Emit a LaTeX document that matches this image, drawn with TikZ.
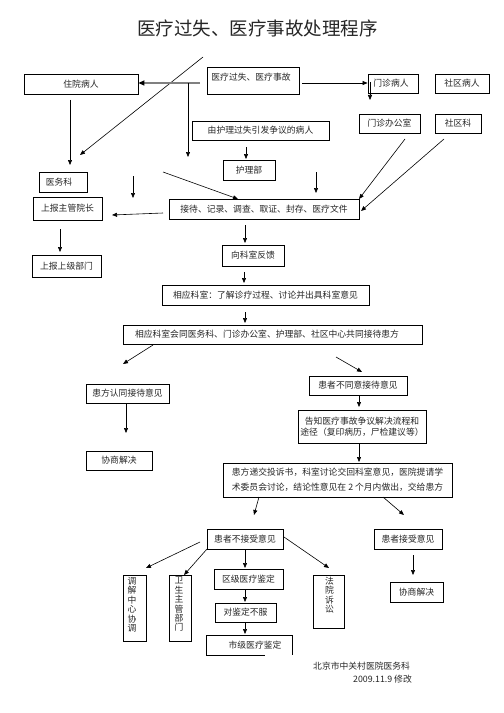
\documentclass[tikz,border=0pt]{standalone}
\usepackage{fontspec}
\newfontfamily\cjk{Noto Sans CJK SC}
\usetikzlibrary{arrows.meta}
\tikzset{
  box/.style={draw, line width=0.8bp, inner sep=0pt, font=\cjk\fontsize{8.8bp}{11bp}\selectfont, text=black!85},
  txt/.style={inner sep=0pt, font=\cjk\fontsize{8.8bp}{11bp}\selectfont, text=black!85},
  vtxt/.style={inner sep=0pt, anchor=north, align=center, font=\cjk\fontsize{8.8bp}{9.4bp}\selectfont, text=black!85},
  arr/.style={line width=0.6bp, -{Triangle[length=5bp,width=4bp]}},
  garr/.style={line width=2bp, draw=black!50, -{Triangle[length=6bp,width=5bp,color=black]}},
}
\begin{document}
\begin{tikzpicture}[x=1bp,y=-1bp]
\useasboundingbox (0,0) rectangle (504,713);
\fill[white] (0,0) rectangle (504,713);
% title
\node[inner sep=0pt, font=\cjk\fontsize{18.5bp}{20bp}\selectfont, text=black!85] (title) at (257.5,28) {医疗过失、医疗事故处理程序};

% boxes
\node[box, minimum width=114bp, minimum height=20bp] (zy) at (81,84) {住院病人};
\node[box, minimum width=92bp, minimum height=27bp] (sg) at (253,80.5) {};
\node[txt] (sgt) at (251,77) {医疗过失、医疗事故};
\node[box, minimum width=137bp, minimum height=19bp] (hl) at (260.5,130.5) {由护理过失引发争议的病人};
\node[box, minimum width=50bp, minimum height=19bp] (mz) at (393,83.5) {};
\node[txt] (mzt) at (391,83.5) {门诊病人};
\node[box, minimum width=54bp, minimum height=19bp] (sq) at (462,83.5) {社区病人};
\node[box, minimum width=61bp, minimum height=19bp] (mb) at (389.5,123.5) {门诊办公室};
\node[box, minimum width=46bp, minimum height=19bp] (sk) at (458,123.5) {社区科};
\node[box, minimum width=52bp, minimum height=20bp] (hlb) at (249,170) {护理部};
\node[box, minimum width=48bp, minimum height=20bp] (yw) at (63,182) {};
\node[txt] (ywt) at (59,182) {医务科};
\node[box, minimum width=69bp, minimum height=23bp] (sb) at (67.5,208.5) {上报主管院长};
\node[box, minimum width=190bp, minimum height=20bp] (jd) at (264,209) {接待、记录、调查、取证、封存、医疗文件};
\node[box, minimum width=69bp, minimum height=22bp] (sj) at (66.5,266) {上报上级部门};
\node[box, minimum width=62bp, minimum height=21bp] (fk) at (253,255.5) {向科室反馈};
\node[box, minimum width=207bp, minimum height=20bp] (ly) at (265.5,295) {相应科室：了解诊疗过程、讨论并出具科室意见};
\node[box, minimum width=299bp, minimum height=19bp] (hs) at (272.5,334.5) {};
\node[txt] (hst) at (267,334.5) {相应科室会同医务科、门诊办公室、护理部、社区中心共同接待患方};
\node[box, minimum width=83bp, minimum height=19bp] (rt) at (127.5,393.5) {患方认同接待意见};
\node[box, minimum width=98bp, minimum height=19bp] (bt) at (358,385.5) {患者不同意接待意见};
\node[box, minimum width=66bp, minimum height=19bp] (xs1) at (119,460.5) {协商解决};
\node[box, minimum width=128bp, minimum height=33bp, align=center] (gz) at (362,426.5) {告知医疗事故争议解决流程和\\途径（复印病历，尸检建议等）};
\node[box, minimum width=229bp, minimum height=34bp, align=center, font=\cjk\fontsize{8.8bp}{15bp}\selectfont] (dj) at (337.5,480) {患方递交投诉书，科室讨论交回科室意见，医院提请学\\术委员会讨论，结论性意见在 2 个月内做出，交给患方};
\node[box, minimum width=76bp, minimum height=20bp] (bj) at (245,539) {患者不接受意见};
\node[box, minimum width=68bp, minimum height=20bp] (js) at (408,539) {患者接受意见};
\node[box, minimum width=23bp, minimum height=66bp] (tj) at (134.5,608) {};
\node[vtxt] (tjt) at (132,577) {调\\解\\中\\心\\协\\调};
\node[box, minimum width=22bp, minimum height=66bp] (ws) at (180,608) {};
\node[vtxt] (wst) at (179,577) {卫\\生\\主\\管\\部\\门};
\node[box, minimum width=69bp, minimum height=20bp] (qj) at (248.5,579) {区级医疗鉴定};
\node[box, minimum width=61bp, minimum height=19bp] (dbf) at (245.5,612.5) {对鉴定不服};
\node[minimum width=85bp, minimum height=19bp, inner sep=0pt] (sj2) at (249.5,645.5) {};
\node[txt] (sj2t) at (255,645.5) {市级医疗鉴定};
\draw[line width=0.8bp] ([xshift=15bp]sj2.south) -- (sj2.south west) -- (sj2.north west) -- (sj2.north east) -- (sj2.south east);
\node[box, minimum width=31bp, minimum height=53bp] (fy) at (328.5,601.5) {};
\node[vtxt] (fyt) at (329.5,577) {法\\院\\诉\\讼};
\node[box, minimum width=53bp, minimum height=20bp] (xs2) at (416.5,592) {协商解决};

% footer
\node[txt, anchor=west] (ft1) at (313,666) {北京市中关村医院医务科};
\node[txt, anchor=east] (ft2) at (412,679) {2009.11.9 修改};

% connector end points
\coordinate (d1a) at (203,57);   \coordinate (d1b) at (80,155);
\coordinate (g1) at (200,83);
\coordinate (v1a) at (188,83);   \coordinate (v1b) at (188,157);
\coordinate (m1) at (302,83);
\coordinate (m2a) at (370,82);   \coordinate (m2b) at (370,100);
\coordinate (z1a) at (70,100);   \coordinate (z1b) at (70,165);
\coordinate (h1a) at (246,147);  \coordinate (h1b) at (246,159);
\coordinate (y1a) at (133,176);  \coordinate (y1b) at (133,198);
\coordinate (y2a) at (163,172);  \coordinate (y2b) at (238,199);
\coordinate (p1a) at (316,172);  \coordinate (p1b) at (316,193);
\coordinate (mb1) at (405,139);  \coordinate (mb2) at (359,199);
\coordinate (sk1) at (444,139);  \coordinate (sk2) at (361,211);
\coordinate (j1a) at (163,213);  \coordinate (j1b) at (112,215);
\coordinate (s1a) at (60,229);   \coordinate (s1b) at (60,252);
\coordinate (j2a) at (245,225);  \coordinate (j2b) at (245,243);
\coordinate (f1a) at (244,272);  \coordinate (f1b) at (244,283);
\coordinate (l1a) at (245,312);  \coordinate (l1b) at (245,323);
\coordinate (hs1a) at (153,345); \coordinate (hs1b) at (123,364);
\coordinate (hs2a) at (336,357); \coordinate (hs2b) at (362,372);
\coordinate (r1a) at (126,403);  \coordinate (r1b) at (126,433);
\coordinate (b1a) at (359,395);  \coordinate (b1b) at (359,407);
\coordinate (gz1a) at (359,443); \coordinate (gz1b) at (359,462);
\coordinate (dj1a) at (259,497); \coordinate (dj1b) at (254,515);
\coordinate (dj2a) at (383,497); \coordinate (dj2b) at (404,515);
\coordinate (bj1a) at (200,542); \coordinate (bj1b) at (146,568);
\coordinate (bj2a) at (207,549); \coordinate (bj2b) at (184,575);
\coordinate (bj3a) at (245,549); \coordinate (bj3b) at (245,568);
\coordinate (bj4a) at (284,537); \coordinate (bj4b) at (329,568);
\coordinate (js1a) at (413,555); \coordinate (js1b) at (413,575);
\coordinate (q1a) at (245,589);  \coordinate (q1b) at (245,602);
\coordinate (q2a) at (245,622);  \coordinate (q2b) at (245,634);

% connectors
\draw[arr] (d1a) -- (d1b);
\draw[garr] (g1) -- (zy.east |- g1);
\draw[arr] (v1a) -- (v1b);
\draw[arr] (m1) -- (mz.west |- m1);
\draw[arr] (m2a) -- (m2b);
\draw[arr] (z1a) -- (z1b);
\draw[arr] (h1a) -- (h1b);
\draw[arr] (y1a) -- (y1b);
\draw[arr] (y2a) -- (y2b);
\draw[arr] (p1a) -- (p1b);
\draw[arr] (mb1) -- (mb2);
\draw[arr] (sk1) -- (sk2);
\draw[arr] (j1a) -- (j1b);
\draw[arr] (s1a) -- (s1b);
\draw[arr] (j2a) -- (j2b);
\draw[arr] (f1a) -- (f1b);
\draw[arr] (l1a) -- (l1b);
\draw[arr] (hs1a) -- (hs1b);
\draw[arr] (hs2a) -- (hs2b);
\draw[arr] (r1a) -- (r1b);
\draw[arr] (b1a) -- (b1b);
\draw[arr] (gz1a) -- (gz1b);
\draw[arr] (dj1a) -- (dj1b);
\draw[arr] (dj2a) -- (dj2b);
\draw[arr] (bj1a) -- (bj1b);
\draw[arr] (bj2a) -- (bj2b);
\draw[arr] (bj3a) -- (bj3b);
\draw[arr] (bj4a) -- (bj4b);
\draw[arr] (js1a) -- (js1b);
\draw[arr] (q1a) -- (q1b);
\draw[arr] (q2a) -- (q2b);
\end{tikzpicture}
\end{document}
